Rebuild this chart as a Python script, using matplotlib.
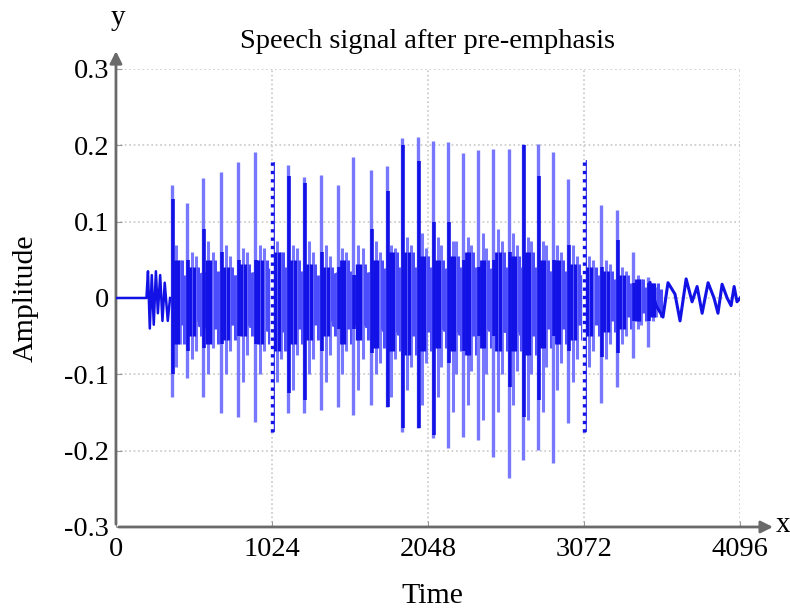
import numpy as np
import matplotlib
matplotlib.use('Agg')
import matplotlib.pyplot as plt

plt.rcParams['font.family'] = ['Liberation Serif', 'DejaVu Serif']

# pitch pulses (sample index, peak, trough)
pulse_t = [366, 464, 571, 687, 799, 912, 1024, 1127, 1234, 1344, 1455, 1556, 1672, 1777, 1877,
           1982, 2081, 2179, 2278, 2376, 2475, 2580, 2672, 2770, 2868, 2967, 3072, 3184, 3289, 3394, 3492]
pulse_hi = [0.148, 0.125, 0.157, 0.165, 0.178, 0.191, 0.178, 0.174, 0.159, 0.161, 0.148, 0.185, 0.168, 0.173, 0.210,
            0.211, 0.206, 0.204, 0.190, 0.194, 0.195, 0.195, 0.202, 0.202, 0.191, 0.156, 0.181, 0.122, 0.115, 0.060, 0.028]
pulse_lo = [-0.130, -0.105, -0.130, -0.151, -0.156, -0.163, -0.176, -0.151, -0.151, -0.147, -0.143, -0.153, -0.140, -0.143, -0.176,
            -0.170, -0.183, -0.197, -0.182, -0.186, -0.208, -0.236, -0.212, -0.199, -0.216, -0.164, -0.176, -0.138, -0.117, -0.079, -0.064]
# dark (overdrawn) part of each pulse
dark_hi = [0.13, 0.05, 0.09, 0.06, 0.05, 0.05, 0.178, 0.16, 0.15, 0.06, 0.04, 0.03, 0.09, 0.14, 0.20,
           0.18, 0.10, 0.10, 0.05, 0.04, 0.05, 0.06, 0.20, 0.16, 0.05, 0.07, 0.181, 0.04, 0.076, 0.02, 0.02]
dark_lo = [-0.10, -0.07, -0.065, -0.06, -0.05, -0.06, -0.176, -0.125, -0.134, -0.07, -0.04, -0.04, -0.072, -0.143, -0.17,
           -0.17, -0.18, -0.085, -0.07, -0.05, -0.05, -0.117, -0.156, -0.134, -0.05, -0.07, -0.176, -0.077, -0.072, -0.03, -0.03]
# secondary strokes inside each pitch period
sec1_hi = [0.07, 0.06, 0.075, 0.07, 0.065, 0.07, 0.075, 0.07, 0.075, 0.07, 0.065, 0.07, 0.075, 0.07, 0.08, 0.085,
           0.08, 0.075, 0.08, 0.085, 0.09, 0.085, 0.08, 0.075, 0.07, 0.07, 0.055, 0.05, 0.04, 0.03, 0.02]
sec1_lo = [-0.09, -0.08, -0.10, -0.10, -0.11, -0.10, -0.11, -0.12, -0.10, -0.11, -0.10, -0.12, -0.10, -0.13, -0.12, -0.14,
           -0.13, -0.15, -0.14, -0.16, -0.15, -0.14, -0.16, -0.15, -0.12, -0.11, -0.09, -0.08, -0.06, -0.04, -0.03]
sec2_hi = [0.05, 0.055, 0.06, 0.055, 0.06, 0.065, 0.06, 0.065, 0.06, 0.055, 0.06, 0.065, 0.06, 0.065, 0.07, 0.065,
           0.07, 0.075, 0.07, 0.065, 0.075, 0.07, 0.075, 0.07, 0.06, 0.055, 0.05, 0.045, 0.035, 0.025, 0.015]
sec2_lo = [-0.06, -0.07, -0.065, -0.07, -0.075, -0.07, -0.08, -0.075, -0.08, -0.075, -0.07, -0.08, -0.085, -0.08, -0.09, -0.085,
           -0.09, -0.10, -0.095, -0.10, -0.10, -0.095, -0.10, -0.09, -0.085, -0.08, -0.07, -0.06, -0.05, -0.035, -0.025]
# dense dark core of each period
core_hi = [0.05, 0.04, 0.05, 0.04, 0.045, 0.05, 0.06, 0.05, 0.045, 0.04, 0.05, 0.045, 0.05, 0.06, 0.06, 0.055,
           0.05, 0.055, 0.06, 0.05, 0.06, 0.055, 0.06, 0.05, 0.05, 0.045, 0.04, 0.035, 0.03, 0.025, 0.02]
core_lo = [-0.06, -0.05, -0.06, -0.055, -0.05, -0.06, -0.07, -0.06, -0.055, -0.05, -0.06, -0.055, -0.065, -0.07, -0.075, -0.07,
           -0.065, -0.07, -0.075, -0.065, -0.07, -0.07, -0.075, -0.065, -0.06, -0.055, -0.05, -0.045, -0.04, -0.03, -0.025]
mid_hi = [0.03, 0.025, 0.035, 0.03, 0.03, 0.035, 0.04, 0.035, 0.03, 0.025, 0.035, 0.03, 0.035, 0.04, 0.04, 0.04,
          0.035, 0.04, 0.04, 0.035, 0.04, 0.04, 0.04, 0.035, 0.035, 0.03, 0.03, 0.025, 0.02, 0.015, 0.012]
mid_lo = [-0.035, -0.03, -0.04, -0.035, -0.035, -0.04, -0.045, -0.04, -0.035, -0.03, -0.04, -0.035, -0.04, -0.045, -0.05, -0.045,
          -0.04, -0.045, -0.05, -0.04, -0.045, -0.045, -0.05, -0.04, -0.04, -0.035, -0.035, -0.03, -0.025, -0.02, -0.015]

# lead-in, onset and decaying tail of the waveform
wave_t = [0, 200, 210, 222, 235, 248, 262, 275, 290, 305, 320, 340, 355]
wave_y = [0, 0, 0.035, -0.04, 0.03, -0.035, 0.035, -0.02, 0.03, -0.03, 0.02, -0.03, 0]
tail_t = [3505, 3545, 3590, 3623, 3669, 3702, 3742, 3781, 3814, 3847, 3886, 3925, 3951, 3978, 4011, 4037, 4057, 4076, 4096]
tail_y = [0.02, -0.01, -0.025, 0.02, 0.005, -0.03, 0.025, -0.005, 0.015, -0.02, 0.02, 0.0, -0.02, 0.018, 0.0, -0.01, 0.015, -0.005, 0.0]

xticks = [0, 1024, 2048, 3072, 4096]
yticks = [-0.3, -0.2, -0.1, 0, 0.1, 0.2, 0.3]
ytick_labels = ['-0.3', '-0.2', '-0.1', '0', '0.1', '0.2', '0.3']
dotted_t = [1024, 3072]

light = '#7878ff'
mid = '#4c4cff'
dark = '#1212e6'

fig = plt.figure(figsize=(7.9, 6.11), dpi=100)
ax = fig.add_axes([0.1468, 0.1375, 0.79, 0.7496])
ax.set_xlim(0, 4096)
ax.set_ylim(-0.3, 0.3)

for x in xticks[1:]:
    ax.axvline(x, color='#c8c8c8', ls=':', lw=1.2, zorder=0)
for y in yticks[1:]:
    ax.axhline(y, color='#c8c8c8', ls=':', lw=1.2, zorder=0)

t = np.array(pulse_t, dtype=float)
per = np.diff(t)
per = np.append(per, per[-1])

ax.fill_between(t, mid_lo, mid_hi, color=mid, lw=0, zorder=1)
ax.vlines(t + 0.3 * per, sec1_lo, sec1_hi, color=light, lw=2.2, zorder=2)
ax.vlines(t + 0.55 * per, sec2_lo, sec2_hi, color=light, lw=2.2, zorder=2)
ax.vlines(t + 0.2 * per, core_lo, core_hi, color=dark, lw=2.4, zorder=2)
ax.vlines(t + 0.42 * per, core_lo, core_hi, color=dark, lw=2.4, zorder=2)
ax.vlines(t + 0.68 * per, mid_lo, core_hi, color=mid, lw=2.2, zorder=2)
ax.vlines(t + 0.85 * per, core_lo, mid_hi, color=mid, lw=2.2, zorder=2)
ax.vlines(t, pulse_lo, pulse_hi, color=light, lw=2.4, zorder=3)
ax.vlines(t + 0.08 * per, dark_lo, dark_hi, color=dark, lw=2.6, zorder=4)
ax.plot(wave_t, wave_y, color=dark, lw=1.8, zorder=4)
ax.plot(tail_t, tail_y, color=dark, lw=2.2, zorder=4)
for x in dotted_t:
    i = pulse_t.index(x)
    ax.vlines(x, pulse_lo[i], pulse_hi[i], color='white', lw=2.6, zorder=5)
    ax.vlines(x, pulse_lo[i], pulse_hi[i], color=dark, lw=2.4, ls=(0, (1, 1.5)), zorder=6)

for s in ax.spines.values():
    s.set_visible(False)
ax.annotate('', xy=(0, 0.327), xytext=(0, -0.3), xycoords='data',
            arrowprops=dict(arrowstyle='-|>', color='#6a6a6a', lw=2, mutation_scale=18),
            annotation_clip=False)
ax.annotate('', xy=(4330, -0.3), xytext=(0, -0.3), xycoords='data',
            arrowprops=dict(arrowstyle='-|>', color='#6a6a6a', lw=2, mutation_scale=18),
            annotation_clip=False)

ax.set_xticks(xticks)
ax.set_xticklabels([str(x) for x in xticks])
ax.set_yticks(yticks)
ax.set_yticklabels(ytick_labels)
ax.tick_params(direction='in', length=4, color='#999999', labelsize=20.5, pad=5)
ax.tick_params(axis='x', pad=7)

fig.text(428 / 790, 1 - 42 / 611, 'Speech signal after pre-emphasis', ha='center', va='center', fontsize=20.5)
fig.text(26 / 790, 1 - 298 / 611, 'Amplitude', ha='center', va='center', rotation=90, fontsize=21.5)
fig.text(432 / 790, 1 - 596 / 611, 'Time', ha='center', va='center', fontsize=21.5)
fig.text(118 / 790, 1 - 18 / 611, 'y', ha='center', va='center', fontsize=21)
fig.text(783 / 790, 1 - 525 / 611, 'x', ha='center', va='center', fontsize=21)

fig.savefig('out.png', dpi=100)
